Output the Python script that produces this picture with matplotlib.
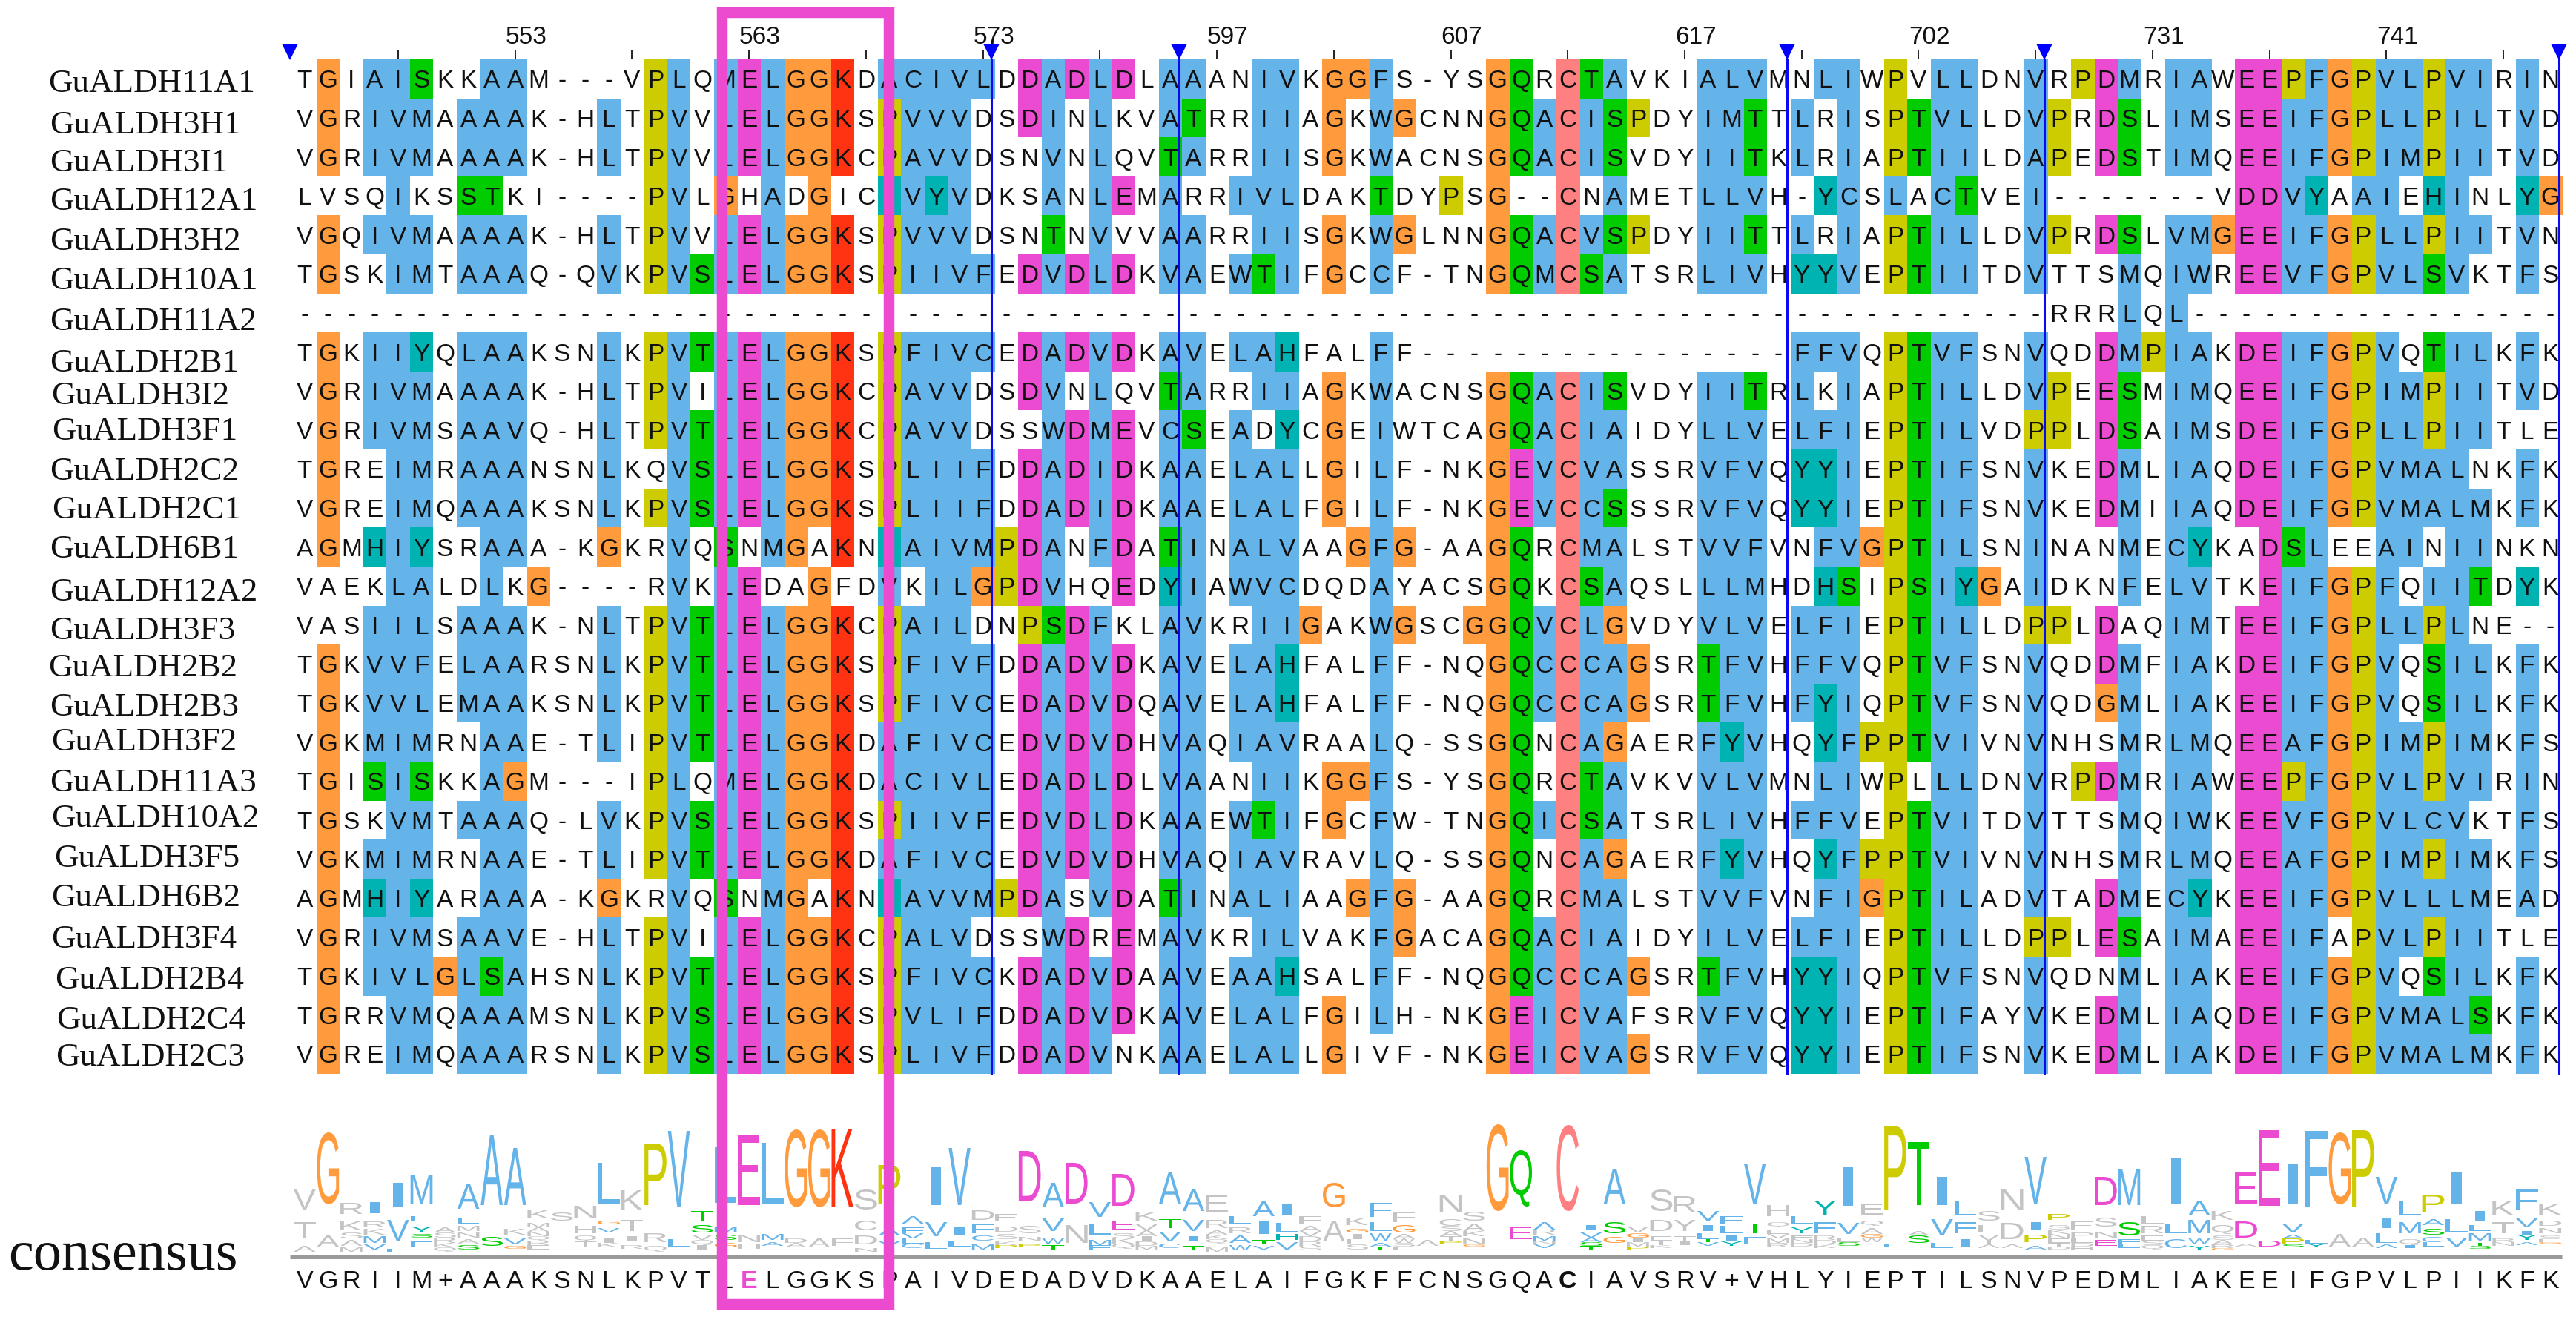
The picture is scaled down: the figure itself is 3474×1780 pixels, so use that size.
import numpy as np
import matplotlib
matplotlib.use("Agg")
import matplotlib.pyplot as plt
from matplotlib.font_manager import FontProperties
from matplotlib.patches import PathPatch, Rectangle
from matplotlib.path import Path
from matplotlib.textpath import TextPath
from matplotlib.transforms import Affine2D

# ---------- data ----------
NAMES = ["GuALDH11A1","GuALDH3H1","GuALDH3I1","GuALDH12A1","GuALDH3H2","GuALDH10A1","GuALDH11A2","GuALDH2B1",
         "GuALDH3I2","GuALDH3F1","GuALDH2C2","GuALDH2C1","GuALDH6B1","GuALDH12A2","GuALDH3F3","GuALDH2B2",
         "GuALDH2B3","GuALDH3F2","GuALDH11A3","GuALDH10A2","GuALDH3F5","GuALDH6B2","GuALDH3F4","GuALDH2B4",
         "GuALDH2C4","GuALDH2C3"]
SEQS = [
 "TGIAISKKAAM---VPLQMELGGKDACIVLDDADLDLAAANIVKGGFS-YSGQRCTAVKIALVMNLIWPVLLDNVRPDMRIAWEEPFGPVLPVIRIN",
 "VGRIVMAAAAK-HLTPVVLELGGKSPVVVDSDINLKVATRRIIAGKWGCNNGQACISPDYIMTTLRISPTVLLDVPRDSLIMSEEIFGPLLPILTVD",
 "VGRIVMAAAAK-HLTPVVLELGGKCPAVVDSNVNLQVTARRIISGKWACNSGQACISVDYIITKLRIAPTIILDAPEDSTIMQEEIFGPIMPIITVD",
 "LVSQIKSSTKI----PVLGHADGICIVYVDKSANLEMARRIVLDAKTDYPSG--CNAMETLLVH-YCSLACTVEI-------VDDVYAAIEHINLYG",
 "VGQIVMAAAAK-HLTPVVLELGGKSPVVVDSNTNVVVAARRIISGKWGLNNGQACVSPDYIITTLRIAPTILLDVPRDSLVMGEEIFGPLLPIITVN",
 "TGSKIMTAAAQ-QVKPVSLELGGKSPIIVFEDVDLDKVAEWTIFGCCF-TNGQMCSATSRLIVHYYVEPTIITDVTTSMQIWREEVFGPVLSVKTFS",
 "---------------------------------------------------------------------------RRRLQL----------------",
 "TGKIIYQLAAKSNLKPVTLELGGKSPFIVCEDADVDKAVELAHFALFF----------------FFVQPTVFSNVQDDMPIAKDEIFGPVQTILKFK",
 "VGRIVMAAAAK-HLTPVILELGGKCPAVVDSDVNLQVTARRIIAGKWACNSGQACISVDYIITRLKIAPTILLDVPEESMIMQEEIFGPIMPIITVD",
 "VGRIVMSAAVQ-HLTPVTLELGGKCPAVVDSSWDMEVCSEADYCGEIWTCAGQACIAIDYLLVELFIEPTILVDPPLDSAIMSDEIFGPLLPIITLE",
 "TGREIMRAAANSNLKQVSLELGGKSPLIIFDDADIDKAAELALLGILF-NKGEVCVASSRVFVQYYIEPTIFSNVKEDMLIAQDEIFGPVMALNKFK",
 "VGREIMQAAAKSNLKPVSLELGGKSPLIIFDDADIDKAAELALFGILF-NKGEVCCSSSRVFVQYYIEPTIFSNVKEDMIIAQDEIFGPVMALMKFK",
 "AGMHIYSRAAA-KGKRVQSNMGAKNIAIVMPDANFDATINALVAAGFG-AAGQRCMALSTVVFVNFVGPTILSNINANMECYKADSLEEAINIINKN",
 "VAEKLALDLKG----RVKLEDAGFDVKILGPDVHQEDYIAWVCDQDAYACSGQKCSAQSLLLMHDHSIPSIYGAIDKNFELVTKEIFGPFQIITDYK",
 "VASIILSAAAK-NLTPVTLELGGKCPAILDNPSDFKLAVKRIIGAKWGSCGGQVCLGVDYVLVELFIEPTILLDPPLDAQIMTEEIFGPLLPLNE--",
 "TGKVVFELAARSNLKPVTLELGGKSPFIVFDDADVDKAVELAHFALFF-NQGQCCCAGSRTFVHFFVQPTVFSNVQDDMFIAKDEIFGPVQSILKFK",
 "TGKVVLEMAAKSNLKPVTLELGGKSPFIVCEDADVDQAVELAHFALFF-NQGQCCCAGSRTFVHFYIQPTVFSNVQDGMLIAKEEIFGPVQSILKFK",
 "VGKMIMRNAAE-TLIPVTLELGGKDAFIVCEDVDVDHVAQIAVRAALQ-SSGQNCAGAERFYVHQYFPPTVIVNVNHSMRLMQEEAFGPIMPIMKFS",
 "TGISISKKAGM---IPLQMELGGKDACIVLEDADLDLVAANIIKGGFS-YSGQRCTAVKVVLVMNLIWPLLLDNVRPDMRIAWEEPFGPVLPVIRIN",
 "TGSKVMTAAAQ-LVKPVSLELGGKSPIIVFEDVDLDKAAEWTIFGCFW-TNGQICSATSRLIVHFFVEPTVITDVTTSMQIWKEEVFGPVLCVKTFS",
 "VGKMIMRNAAE-TLIPVTLELGGKDAFIVCEDVDVDHVAQIAVRAVLQ-SSGQNCAGAERFYVHQYFPPTVIVNVNHSMRLMQEEAFGPIMPIMKFS",
 "AGMHIYARAAA-KGKRVQSNMGAKNIAVVMPDASVDATINALIAAGFG-AAGQRCMALSTVVFVNFIGPTILADVTADMECYKEEIFGPVLLLMEAD",
 "VGRIVMSAAVE-HLTPVILELGGKCPALVDSSWDREMAVKRILVAKFGACAGQACIAIDYILVELFIEPTILLDPPLESAIMAEEIFAPVLPIITLE",
 "TGKIVLGLSAHSNLKPVTLELGGKSPFIVCKDADVDAAVEAAHSALFF-NQGQCCCAGSRTFVHYYIQPTVFSNVQDNMLIAKEEIFGPVQSILKFK",
 "TGRRVMQAAAMSNLKPVSLELGGKSPVLIFDDADVDKAVELALFGILH-NKGEICVAFSRVFVQYYIEPTIFAYVKEDMLIAQDEIFGPVMALSKFK",
 "VGREIMQAAARSNLKPVSLELGGKSPLIVFDDADVNKAAELALLGIVF-NKGEICVAGSRVFVQYYIEPTIFSNVKEDMLIAKDEIFGPVMALMKFK",
]
CONSENSUS = "VGRIIM+AAAKSNLKPVTLELGGKSPAIVDEDADVDKAAELAIFGKFFCNSGQACIAVSRV+VHLYIEPTILSNVPEDMLIAKEEIFGPVLPIIKFK"

# residues that are shaded, per alignment column
SHADED = ["","G","","AIVMHS","IVL","SMYFLA","G","ALMS","ALTS","AVG","G","","","LVG","","P","LV","ST","MLGS","E",
          "LAM","G","G","K","","APIV","CVAILF","IVLY","VIL","LFCMG","P","DP","AIVTWS","D","LVIMF","DE","","AVTCY","ATSVI","",
          "WLAI","IALVT","VILHYC","G","G","G","FWTCLAI","G","","P","G","G","QE","AMVCI","C","TIVSMCLA","ASG","PG","","",
          "AILVTF","LMIFVY","VTMF","","LYF","LYFH","ICVSF","GP","PL","TS","LVIC","LIFTY","G","","VAIP","P","P","DEG","MSFL","P",
          "ILVC","AMWYV","G","ED","ED","PIVAS","FYL","G","PA","VLIFA","LMI","PHSTACLI","VLI","ILTMS","","IVFYA","G"]

TICK_COLUMNS = list(range(4, 97, 5))
NUMBERED_COLUMNS = [9, 19, 29, 39, 49, 59, 69, 79, 89]
NUMBER_LABELS = ["553", "563", "573", "597", "607", "617", "702", "731", "741"]
BREAK_COLUMNS = [0, 30, 38, 64, 75, 97]

# sequence logo, top of stack first: letter + height; lower case = grey letter, "_" = blank
LOGO = [
 "v27 _17 t22 _10 a8","G97 _42 a15 _7","r15 _10 k12 _3 s8 _2 a8 _2 m6","I15 _11 r8 _2 k8 _2 M9 _2 V7 _3","I33 _17 V28 _11 L4",
 "M38 _17 L7 _7 Y8 _2 S5 _5 F7 _7","a7 s7 r7 k6 q6","A33 _13 L7 _3 m7 _2 n7 _2 a6 _2 S6 _3","A95 _43 S12 _8","A77 _32 k8 _5 V8 _2 G4 _4",
 "k11 _6 m6 a6 n6 q6 r6 e6 _3","s11 _42","n17 _10 h10 _3 q8 t8 _6","L55 _23 G5 _5 V6 _8 i6 k6 _6","k27 _13 t15 _7 i7 _5 r5 _4",
 "P83 _38 r12 _5 q8","V103 _43 L10 _7","T13 _6 S10 _3 v7 q7 i6 _3","L75 _33 M7 _3 S7 _4 G6 _6","E95 _40 n10 _3 h6 _4",
 "L83 _40 M8 _3 A5 _8","G105 _42 d6 a6 _6","G105 _42 a12 _6","K105 _42 f10 _8","s27 _15 c13 _7 d12 _5 n5",
 "P53 _32 A10 I8 V6 _8","A10 _5 F8 V7 L7 C6 _5","I51 _23 V19 _8 L9 _4","V77 _30 I10 _8 L8 _7","d13 _6 F12 _3 C7 _5 M7 _3",
 "e10 _7 d7 _3 s7 _3 k5 P4 _5","D68 _33 s10 _5 n5 _5 P3 _7","A33 _15 V17 _10 W7 _2 T6 _3","D55 _29 n24 _12","V20 _9 L15 _7 M7 F6 _3",
 "D43 _20 E12 _5 s7 k7 q7 _4","k12 _5 v8 a8 i7 d6 m5 _3","A42 _21 T12 _5 V13 _3 C6 _5","A29 _12 V15 _7 I7 _6 T5 _3","e23 _11 r11 _3 a6 k6 q6 _5 m6",
 "L10 _5 r8 _3 A10 _3 W7 _2","A20 _7 I17 _8 T5 _3 V5 _3","I15 _11 L12 _3 H8 _3 V10 _3","f10 _3 a7 v7 d7 r7 s5 _2","G33 _18 a28 _14",
 "k10 _5 G5 _2 i7 l7 s7 _3","F19 _7 L12 _3 W10 _3 A5 T4 _3","f13 _4 G10 _2 a6 w6 s5 l5 _2","a8 _8","n23 _10 c9 s7 a7 t7 P3 _11",
 "s12 _4 a10 k7 _3 n8 G3 _7","G117 _55","Q76 _27 E17 _17","A10 r7 _2 M6 n5 V5 _5","C116 _55",
 "I7 _3 V7 A6 S5 T5 _3","A48 _24 S15 _5 G8 _12","v8 _1 G6 i6 m6 P4 _3","s29 _12 d15 _7 e6 t6 k4 _5","r22 _10 y15 _7 t6 i6 _9",
 "V13 _6 I8 _3 L8 T4 V5 _8","F10 _3 L10 _3 I8 Y6 _8","V55 _26 T13 _5 F10 _10","h15 _8 q7 _3 e6 v6 m6 r6 _6","L10 _5 Y8 _3 f5 n5 d5 _7",
 "Y19 _10 F15 _3 r6 d6 k5 _5","I52 _23 V15 _5 e6 S5 _8","e15 _8 q7 _3 a8 G5 w6 _13","P112 _47 L4 _6","T85 _35 a6 S10 _12",
 "I38 _19 V22 _10 L7 _5","L20 _9 F15 _8 I10 _7","s13 _6 l10 _3 v8 t5 a5 _5","n28 _17 d22 _7 a5 _5","V63 _25 I10 _7 P10 _5 A5 _3",
 "P8 _7 s6 k6 n6 e6 t5 d4 _3","e12 _3 p7 l7 d5 h5 _2","D38 _17 s12 _7 n8 _3 E8 _8","M49 _23 S18 _5 F6 L6 _5","l10 _3 r10 _3 e7 s6 q6 _3",
 "I62 _28 L12 _8 C12 _5","A20 _6 M18 _7 W7 _3 Y5 _3","k12 _7 q12 _2 s6 a6 r5 G3 _2","E42 _24 D22 _8 a4 _7","E102 _47 D8 _7",
 "I55 _26 V12 _3 A5 P8 S4 _6","F102 _45 L5 Y5 _6","G97 _40 a17 _7","P103 _42 a12 _7","V37 _19 I13 _7 L13 _2 A5 _5",
 "L20 _9 M15 _8 q8 I4 _5","P23 _10 A8 _5 S8 _3 C7 L6 _7","I42 _21 L18 _7 V12 _7","I13 _6 L8 _3 M10 _3 T4 S4 _4","k20 _9 t15 _7 r5 n5 _8",
 "F28 _11 V12 _5 I5 Y7 _3 A4 _9","k15 _8 d7 _3 n7 _3 s5 e4 G2 _11",
]
assert len(LOGO) == 97 and len(SHADED) == 97 and len(CONSENSUS) == 97
assert all(len(s) == 97 for s in SEQS), [len(s) for s in SEQS]

# ---------- layout and style ----------
W, H = 3474, 1780
X0, X1 = 395.0, 3455.0
Y0, Y1 = 80.0, 1447.7
CW = (X1 - X0) / 97
RH = (Y1 - Y0) / 26
LABEL_LEFT = [65, 67, 67, 67, 67, 67, 67, 67, 69, 70, 67, 70, 67, 67, 67, 65, 67, 69, 67, 69, 73, 69, 69, 74, 76, 75]
LABEL_BASE = [124, 180, 231, 283, 337, 390, 445, 501, 545, 593, 647, 699, 752, 810, 862, 912, 965,
              1012, 1067, 1115, 1169, 1222, 1278, 1333, 1387, 1437]

BLUE, ORANGE, YELLOW, MAGENTA = "#64B3E9", "#FF9A3D", "#CCCC00", "#EB4BD0"
GREEN, TEAL, RED, PINK = "#00CC00", "#00B3B3", "#FF3311", "#FF8080"
GREY = "#C4C4C4"
LINE_BLUE = "#0A0AF0"
COLORS = {}
for letters, col in [("AILMFWVC", BLUE), ("G", ORANGE), ("P", YELLOW), ("DE", MAGENTA),
                     ("STQN", GREEN), ("HY", TEAL), ("KR", RED)]:
    for ch in letters:
        COLORS[ch] = col
PINK_C_COLUMN, TEAL_I_COLUMN = 54, 25


def residue_color(letter, col):
    if letter == "C" and col == PINK_C_COLUMN:
        return PINK
    if letter == "I" and col == TEAL_I_COLUMN:
        return TEAL
    return COLORS.get(letter, GREY)


SANS = "Liberation Sans"
SERIF = "Liberation Serif"
fig = plt.figure(figsize=(W / 100, H / 100), dpi=100, facecolor="white")


def axes_px(x0, x1, ytop, ybot):
    return fig.add_axes([x0 / W, 1 - ybot / H, (x1 - x0) / W, (ybot - ytop) / H])


# ---------- alignment ----------
ax = axes_px(X0, X1, Y0, Y1)
ax.set_xlim(0, 97)
ax.set_ylim(26, 0)
ax.axis("off")
img = np.ones((26, 97, 3))
for r, seq in enumerate(SEQS):
    for c, ch in enumerate(seq):
        if ch in SHADED[c]:
            img[r, c] = matplotlib.colors.to_rgb(residue_color(ch, c))
ax.imshow(img, extent=(0, 97, 26, 0), aspect="auto", interpolation="nearest", zorder=1)
ax.set_xlim(0, 97)
ax.set_ylim(26, 0)
for r, seq in enumerate(SEQS):
    for c, ch in enumerate(seq):
        ax.text(c + 0.5, r + 0.5 + 12 / RH, ch, ha="center", va="baseline", family=SANS,
                fontsize=24, color="#111111", zorder=3)

# blue breaks
for c in BREAK_COLUMNS:
    xc = c - 4 / CW
    if c != 0:
        ax.plot([xc, xc], [-0.02, 26.02], color=LINE_BLUE, lw=2.2, clip_on=False, zorder=4, solid_capstyle="butt")
    ax.plot([xc], [-10.5 / RH], marker="v", ms=15.5, color="#0000FF", mew=0, clip_on=False, zorder=5, ls="none")

# ruler
ax.vlines(np.array(TICK_COLUMNS) + 0.5, -13 / RH, 0, color="#222222", lw=1.4, clip_on=False, zorder=2)
for c, lab in zip(NUMBERED_COLUMNS, NUMBER_LABELS):
    ax.text(c + 0.5 - 13 / CW, -21 / RH, lab, ha="left", va="baseline", family=SANS, fontsize=24,
            color="#111111", zorder=3, clip_on=False)

# ---------- logo ----------
LOGO_BASE, LOGO_TOP = 1688.0, 1513.0
lax = axes_px(X0, X1, LOGO_TOP, LOGO_BASE)
lax.set_xlim(0, 97)
lax.set_ylim(0, LOGO_BASE - LOGO_TOP)
lax.axis("off")
fp = FontProperties(family=SANS)


def draw_glyph(axis, ch, col, bottom, height, color):
    tp = TextPath((0, 0), ch, size=1, prop=fp)
    bb = tp.get_extents()
    width = 0.42 if ch == "I" else 0.94
    tr = (Affine2D().translate(-bb.x0, -bb.y0)
          .scale(width / bb.width, height / bb.height)
          .translate(col + 0.5 - width / 2, bottom))
    axis.add_patch(PathPatch(tr.transform_path(Path(tp.vertices, tp.codes)), fc=color, ec="none", lw=0, zorder=2))


for c, spec in enumerate(LOGO):
    parts = spec.split()
    y = float(sum(int(p[1:]) for p in parts))
    for p in parts:
        ch, hgt = p[0], int(p[1:])
        y -= hgt
        if ch == "_":
            continue
        color = residue_color(ch, c) if ch.isupper() else GREY
        draw_glyph(lax, ch.upper(), c, y, hgt, color)

# ---------- overlay in pixels ----------
px = fig.add_axes([0, 0, 1, 1], facecolor="none")
px.set_xlim(0, W)
px.set_ylim(H, 0)
px.axis("off")
px.set_zorder(10)
for name, left, base in zip(NAMES, LABEL_LEFT, LABEL_BASE):
    px.text(left, base, name, family=SERIF, fontsize=32.4, ha="left", va="baseline", color="#111111")
px.text(11, 1712, "consensus", family=SERIF, fontsize=55, ha="left", va="baseline", color="#111111")
px.plot([391, X1], [1695, 1695], color="#9A9A9A", lw=3.6, solid_capstyle="butt", zorder=1)
for c, ch in enumerate(CONSENSUS):
    strong = c in (19, 54)
    px.text(X0 + (c + 0.5) * CW, 1737, ch, family=SANS, fontsize=24.5, ha="center", va="baseline",
            color=MAGENTA if c == 19 else "#111111", fontweight="bold" if strong else "normal", zorder=2)
px.add_patch(Rectangle((973.5, 17), 1199 - 973.5, 1759 - 17, fc="none", ec="#EC4BD0", lw=10.4,
                       joinstyle="miter", zorder=6))

fig.savefig("out.png", dpi=100, facecolor="white")
